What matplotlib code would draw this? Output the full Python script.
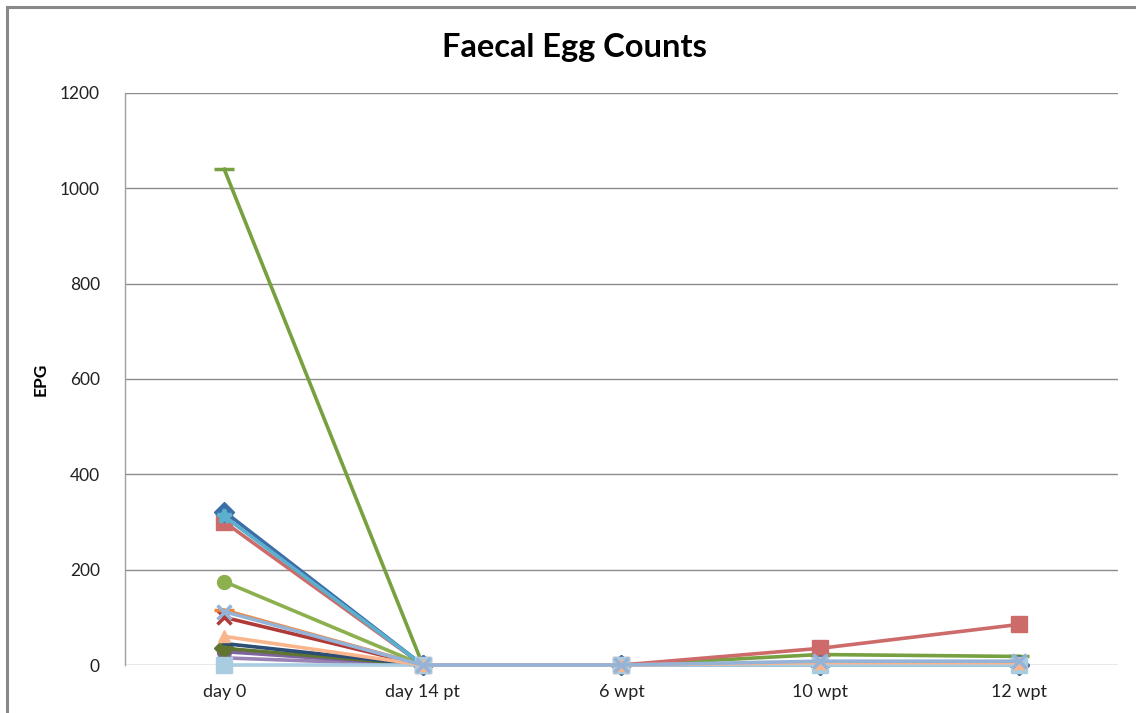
#!/usr/bin/env python3
# coding: utf-8

import numpy as np
import matplotlib
matplotlib.use("Agg")
import matplotlib.pyplot as plt
from matplotlib.lines import Line2D

plt.rcParams['font.family'] = ['Lato', 'DejaVu Sans']

timepoints = ["day 0", "day 14 pt", "6 wpt", "10 wpt", "12 wpt"]

# EPG per animal at each time point
epg_a01 = [322, 0, 0, 0, 0]
epg_a02 = [300, 0, 0, 35, 85]
epg_a03 = [312, 0, 0, 0, 0]
epg_a04 = [175, 0, 0, 0, 0]
epg_a05 = [115, 0, 0, 0, 0]
epg_a06 = [112, 0, 0, 8, 8]
epg_a07 = [100, 0, 0, 0, 0]
epg_a08 = [60, 0, 0, 5, 5]
epg_a09 = [45, 0, 0, 0, 0]
epg_a10 = [35, 0, 0, 0, 0]
epg_a11 = [28, 0, 0, 0, 0]
epg_a12 = [15, 0, 0, 0, 0]
epg_a13 = [0, 0, 0, 0, 0]
epg_a14 = [1040, 0, 0, 22, 18]

# drawing order: last one ends up on top
series = [
    (epg_a14, "#77A040", "_"),
    (epg_a12, "#9983B5", None),
    (epg_a11, "#8064A2", "o"),
    (epg_a10, "#5F7530", "D"),
    (epg_a09, "#2C4D75", None),
    (epg_a07, "#B03A38", "x"),
    (epg_a05, "#F0853A", "_"),
    (epg_a04, "#8DB04E", "o"),
    (epg_a02, "#CD6B6A", "s"),
    (epg_a01, "#3C6EA8", "D"),
    (epg_a03, "#5BB0CE", "*"),
    (epg_a13, "#A9CCE0", "s"),
    (epg_a08, "#FAB58C", "^"),
    (epg_a06, "#95B3D7", "x"),
]

fig = plt.figure(figsize=(11.36, 7.13), dpi=100)
ax = fig.add_axes([0.110, 0.0673, 0.874, 0.8023])

x = np.arange(len(timepoints))
for vals, color, marker in series:
    ms = 10
    mew = 2.5 if marker in ("x", "+", "_", "*") else 1
    if marker == "_":
        ms = 14
    if marker == "s":
        ms = 11
    if marker == "^":
        ms = 8
    ax.plot(x, vals, "-", color=color, lw=2.6, marker=marker,
            markersize=ms, markeredgewidth=mew, markeredgecolor=color,
            markerfacecolor=color, clip_on=False)

ax.set_xlim(-0.5, 4.5)
ax.set_ylim(0, 1200)
ax.set_yticks(np.arange(0, 1201, 200))
ax.set_xticks(x)
ax.set_xticklabels(timepoints)
ax.tick_params(axis='y', length=0, labelsize=12.5, colors="#222222", pad=18)
ax.tick_params(axis='x', length=0, labelsize=13, colors="#222222", pad=14)

ax.yaxis.grid(True, color="#8C8C8C", lw=1)
ax.set_axisbelow(True)
for side in ("top", "right", "bottom"):
    ax.spines[side].set_visible(False)
ax.spines['left'].set_color("#A0A0A0")
ax.spines['left'].set_linewidth(1)

ax.set_ylabel("EPG", fontsize=12.5, fontweight="bold", labelpad=8)
fig.text(0.506, 0.933, "Faecal Egg Counts", ha="center", va="center",
         fontsize=23.5, fontweight="bold")

# chart frame, top and left edges
fig.add_artist(Line2D([0.0065, 1.0], [0.990, 0.990], color="#888888", lw=2.2))
fig.add_artist(Line2D([0.0065, 0.0065], [0.0, 0.990], color="#888888", lw=2.2))

fig.savefig("out.png", dpi=100)
